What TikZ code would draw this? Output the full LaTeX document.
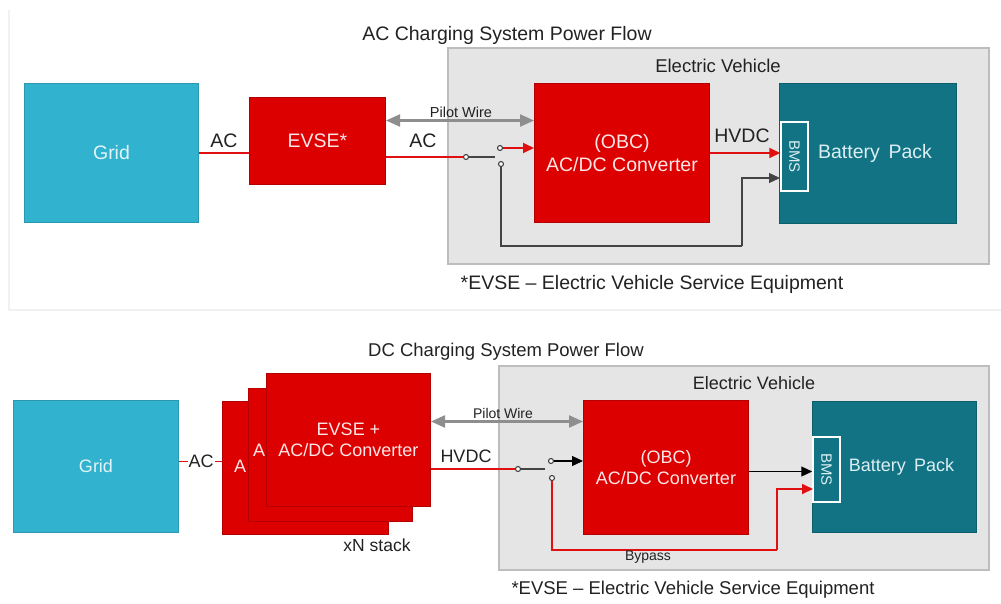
\documentclass[tikz,border=0pt]{standalone}
\usepackage{fontspec}
\setmainfont{Liberation Sans}
\usetikzlibrary{arrows.meta,calc}
\definecolor{gridblue}{HTML}{31B2CE}
\definecolor{gridedge}{HTML}{2A98B0}
\definecolor{gridtext}{HTML}{E2F4F8}
\definecolor{evred}{HTML}{DD0000}
\definecolor{evrededge}{HTML}{B40000}
\definecolor{redtext}{HTML}{FFE6E6}
\definecolor{battteal}{HTML}{117383}
\definecolor{battedge}{HTML}{0C5E6B}
\definecolor{batttext}{HTML}{DCEFF3}
\definecolor{evfill}{HTML}{E5E5E5}
\definecolor{evedge}{HTML}{BDBDBD}
\definecolor{pilotgray}{HTML}{8E8E8E}
\definecolor{wirered}{HTML}{E01010}
\definecolor{wiredark}{HTML}{444444}
\definecolor{txt}{HTML}{222222}
\definecolor{panelline}{HTML}{F1F1F1}
\begin{document}
\begin{tikzpicture}[x=1pt,y=-1pt,
  blk/.style={draw, line width=1pt, inner sep=0pt, anchor=north west, align=center},
  gridbox/.style={blk, fill=gridblue, draw=gridedge, text=gridtext},
  redbox/.style={blk, fill=evred, draw=evrededge, text=redtext},
  battbox/.style={blk, fill=battteal, draw=battedge, text=batttext},
  evbox/.style={blk, fill=evfill, draw=evedge, line width=1.6pt},
  bmsbox/.style={draw=white, fill=battteal, line width=1.5pt, inner sep=0pt},
  contact/.style={circle, draw=wiredark, fill=white, line width=1.1pt, inner sep=0pt, minimum size=5pt},
  lbl/.style={text=txt, inner sep=0pt},
  fA/.style={font=\fontsize{19.5}{23}\selectfont},
  fB/.style={font=\fontsize{18}{21}\selectfont},
  fS/.style={font=\fontsize{14.5}{17}\selectfont},
  redwire/.style={draw=wirered, line width=1.8pt},
  darkwire/.style={draw=wiredark, line width=1.4pt},
  redarrow/.style={redwire, -{Triangle[length=11pt,width=10pt]}},
  darkarrow/.style={draw=black, line width=1.2pt, -{Triangle[length=11pt,width=10pt]}},
  pilot/.style={draw=pilotgray, line width=2.2pt, {Triangle[length=14pt,width=12pt]}-{Triangle[length=14pt,width=12pt]}}
]
\useasboundingbox[fill=white] (0,0) rectangle (1001,603);
% faint panel frame
\draw[panelline, line width=1.5pt] (9,10) -- (9,310) -- (1001,310);

% ================= TOP: AC charging =================
\node[lbl, fA] (title1) at (507,35) {AC Charging System Power Flow};
\node[evbox, minimum width=541, minimum height=216] (ev1) at (447,47) {};
\node[lbl, fA, font=\fontsize{18.5}{22}\selectfont] (evlabel1) at (718,66) {Electric Vehicle};

\node[gridbox, fA, minimum width=174, minimum height=139] (grid1) at (24,83) {Grid};
\node[redbox, fA, minimum width=136, minimum height=87] (evse1) at (249,97) {EVSE*};
\node[redbox, fA, minimum width=175, minimum height=139] (obc1) at (534,83) {(OBC)\\AC/DC Converter};
\node[battbox, fA, minimum width=177, minimum height=140] (batt1) at (779,83) {\hspace*{14pt}Battery\hspace{0.45em}Pack};
\node[bmsbox, minimum width=27, minimum height=69] (bms1) at (794.5,156.5) {};
\node[rotate=-90, text=batttext, inner sep=0pt, font=\fontsize{15}{18}\selectfont] (bmstext1) at (bms1) {BMS};

\node[contact] (s1a) at (466,157) {};
\node[contact] (s1b) at (500,148) {};
\node[contact] (s1c) at (501,164) {};
\coordinate (blade1) at (495,157);
\coordinate (ret1) at (742,246);
\coordinate (bmsin1) at (780,178);

% wires
\draw[redwire] (grid1.east) -- (grid1.east -| evse1.west);
\node[lbl, fA] (ac1) at (224,141) {AC};
\draw[redwire] (evse1.east |- s1a) -- (s1a);
\node[lbl, fA] (ac1b) at (423,141) {AC};
\draw[darkwire] (s1a) -- (blade1);
\draw[redarrow] (s1b) -- (s1b -| obc1.west);
\draw[darkwire] (s1c) |- (ret1);
\draw[darkarrow, draw=wiredark] (ret1) |- (bmsin1);
\draw[redarrow] (obc1.east) -- (obc1.east -| bms1.west);
\node[lbl, fA] (hvdc1) at (742,136) {HVDC};
\draw[pilot] ($(evse1.east)+(0,-20.5)$) -- ($(evse1.east -| obc1.west)+(0,-20.5)$);
\node[lbl, fS] (pilotlbl1) at (461,112) {Pilot Wire};

\node[lbl, fA] (foot1) at (652,284) {*EVSE -- Electric Vehicle Service Equipment};

% ================= BOTTOM: DC charging =================
\node[lbl, fB, font=\fontsize{18.5}{22}\selectfont] (title2) at (506,352) {DC Charging System Power Flow};
\node[evbox, minimum width=490, minimum height=204] (ev2) at (498,365) {};
\node[lbl, fB] (evlabel2) at (754,383) {Electric Vehicle};

\node[gridbox, fB, minimum width=165, minimum height=132] (grid2) at (13,400) {Grid};

\node[redbox, minimum width=166, minimum height=133] (stack3) at (222,401) {};
\node[lbl, fB, text=redtext] (stack3txt) at (240,466) {A};
\node[redbox, minimum width=164, minimum height=133] (stack2) at (248,388) {};
\node[lbl, fB, text=redtext] (stack2txt) at (259,450) {A};
\node[redbox, fB, minimum width=164, minimum height=133] (evse2) at (266,373) {EVSE +\\AC/DC Converter};
\node[lbl, fB, font=\fontsize{17.5}{21}\selectfont] (xn) at (377,545) {xN stack};

\draw[redwire] ($(grid2.east)+(0,-5)$) -- ($(grid2.east -| stack3.west)+(0,-5)$);
\node[lbl, fB, fill=white, inner xsep=1pt] (ac2) at (201,461) {AC};

\node[redbox, fB, minimum width=165, minimum height=134] (obc2) at (583,400) {(OBC)\\AC/DC Converter};
\node[battbox, fB, minimum width=164, minimum height=131] (batt2) at (812,401) {\hspace*{14pt}Battery\hspace{0.45em}Pack};
\node[bmsbox, minimum width=27, minimum height=65] (bms2) at (826.5,469.5) {};
\node[rotate=-90, text=batttext, inner sep=0pt, font=\fontsize{15}{18}\selectfont] (bmstext2) at (bms2) {BMS};

\node[contact] (s2a) at (518,469) {};
\node[contact] (s2b) at (551,461) {};
\node[contact] (s2c) at (552,478) {};
\coordinate (blade2) at (545,469);
\coordinate (byp2) at (777,550);
\coordinate (bmsin2) at (813,489);

\draw[pilot] ($(evse2.east)+(0,-18.5)$) -- ($(evse2.east -| obc2.west)+(0,-18.5)$);
\node[lbl, fS, font=\fontsize{14}{17}\selectfont] (pilotlbl2) at (503,413) {Pilot Wire};
\draw[redwire] (evse2.east |- s2a) -- (s2a);
\node[lbl, fB] (hvdc2) at (466,456) {HVDC};
\draw[darkwire] (s2a) -- (blade2);
\draw[darkarrow] (s2b) -- (s2b -| obc2.west);
\draw[redwire] (s2c) |- (byp2);
\draw[redarrow] (byp2) |- (bmsin2);
\node[lbl, fS, font=\fontsize{14}{17}\selectfont] (bypass) at (648,557) {Bypass};
\draw[darkarrow] ($(obc2.east)+(0,4)$) -- ($(obc2.east -| bms2.west)+(0,4)$);

\node[lbl, fB, font=\fontsize{18.5}{22}\selectfont] (foot2) at (693,590) {*EVSE -- Electric Vehicle Service Equipment};
\end{tikzpicture}
\end{document}
